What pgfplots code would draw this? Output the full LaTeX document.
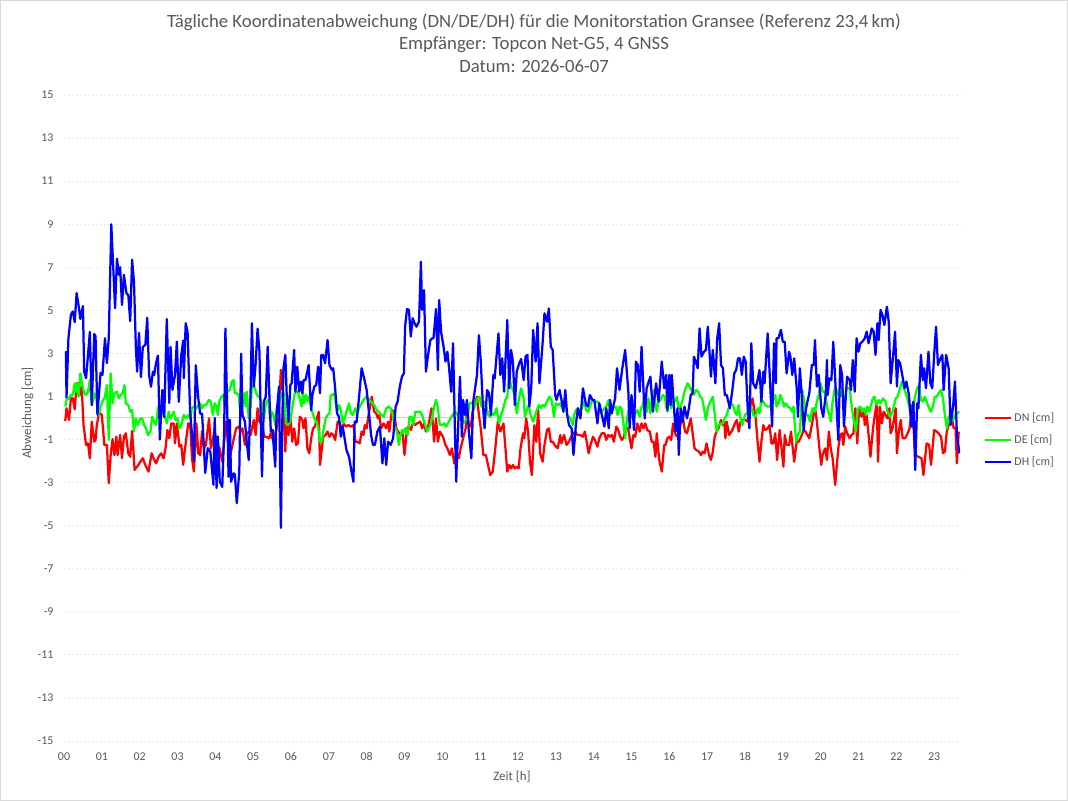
\documentclass[border=0pt]{standalone}
\usepackage{fontspec}
\setmainfont{Carlito}
\usepackage{pgfplots}
\usepackage{pgfplotstable}
\pgfplotsset{compat=1.18}

\definecolor{txtgray}{HTML}{595959}
\definecolor{gridgray}{HTML}{D9D9D9}
\definecolor{zerogray}{HTML}{D0D0D0}
\definecolor{dnred}{HTML}{FF0000}
\definecolor{degreen}{HTML}{00FF00}
\definecolor{dhblue}{HTML}{0000FF}

% time in minutes since 00:00, deviation in cm
\pgfplotstableread{
t v
2 -0.14
4 0.45
8 -0.09
11 0.94
14 0.91
17 0.40
20 1.61
23 1.61
25 1.07
28 1.46
31 -0.33
35 -1.25
38 -1.18
41 -1.87
44 -0.17
48 -1.10
50 -1.02
52 -0.33
55 0.14
57 0.22
60 0.14
64 -1.25
68 -1.25
71 -3.03
74 -1.72
77 -0.98
80 -1.72
83 -0.87
85 -1.72
89 -0.79
92 -1.87
95 -0.87
98 -0.71
102 -1.64
105 -1.80
108 -0.60
112 -2.41
118 -2.18
121 -2.03
125 -1.87
129 -2.18
134 -2.49
139 -1.64
142 -1.87
146 -2.11
150 -1.80
154 -1.64
158 -1.87
161 -1.41
164 -0.56
167 -0.94
170 -0.25
174 -0.25
176 -1.18
179 -0.25
183 -1.33
186 -1.25
189 -2.18
192 -1.41
197 -0.25
200 -0.25
203 -1.87
206 -2.49
210 -0.25
213 -1.64
216 -1.72
219 -0.60
222 -1.41
225 -1.25
230 -0.02
233 -1.41
236 -1.02
239 -0.48
242 -1.49
246 -1.33
251 -2.03
254 -1.10
257 -0.17
259 -0.79
263 -1.87
266 -1.41
270 -0.87
273 -0.48
277 -0.40
280 -0.63
283 -0.48
287 -1.25
290 -0.71
294 -0.63
296 -0.79
301 -0.09
304 -0.79
307 0.45
310 -0.17
313 -0.25
315 -0.48
318 -0.87
320 -0.87
325 -0.94
328 -0.71
332 -1.10
336 -0.63
340 -0.02
344 2.23
347 1.22
351 -1.56
353 -0.17
356 -0.79
359 0.14
362 -1.10
365 -0.48
368 -1.25
371 -1.18
374 0.06
378 -0.09
380 -0.48
383 -0.02
386 -1.41
389 -1.64
392 -0.94
395 -0.48
398 -0.40
401 -0.02
404 0.29
406 -2.18
409 -1.41
411 -0.87
415 -0.79
418 -0.63
421 -0.87
424 -0.71
427 -0.79
430 -1.02
434 -0.17
437 -0.17
440 -0.63
443 -0.25
447 -0.40
451 -0.33
455 -0.40
459 -0.33
462 -1.10
465 -1.10
469 -1.18
472 -0.63
475 -0.79
477 -0.33
480 -0.48
483 0.14
488 0.99
492 0.29
495 0.22
498 -0.02
500 0.14
503 -0.48
507 -0.25
511 -0.48
514 -0.17
516 -0.63
520 0.37
523 0.29
527 -0.48
530 -0.63
534 -0.79
537 -0.71
540 -1.72
544 -0.48
547 -0.40
550 -0.56
554 -0.17
557 -0.33
560 -0.25
565 -0.17
568 -0.48
571 -0.25
574 -0.63
578 -0.33
583 0.45
587 -1.10
590 -0.02
593 -1.10
596 -0.63
601 -0.87
605 -1.25
608 -1.41
612 -1.72
615 -1.41
619 -2.11
623 -1.64
626 -1.87
629 -1.41
633 -0.94
637 -0.48
639 0.29
642 -0.33
645 -0.40
648 0.29
655 0.99
658 0.14
661 -0.48
665 -1.72
669 -1.72
676 -2.65
680 -2.49
684 -1.41
688 -0.17
692 -0.63
697 -0.25
703 -2.49
706 -2.18
709 -2.34
712 -2.18
715 -2.34
718 -2.26
721 -2.34
724 -1.41
728 -0.71
730 -0.94
733 -0.02
736 -0.63
739 -2.03
742 -2.65
746 -0.33
749 -1.10
752 0.37
755 -1.64
759 -2.03
762 -1.25
766 -0.56
769 -0.48
772 -1.10
775 -1.10
778 -1.25
783 -1.41
787 -0.79
789 -1.18
793 -0.79
797 -1.25
801 -1.10
804 -0.87
808 -0.71
811 -0.63
814 -0.79
819 -0.79
823 -0.87
826 -0.63
829 -1.10
832 -1.64
835 -1.25
839 -0.87
842 -1.02
846 -1.33
849 -0.94
853 -0.71
857 -0.71
860 -1.02
863 -0.79
866 -0.87
869 -0.79
872 -1.10
876 -0.40
879 -0.56
882 -0.87
885 -1.02
888 -0.87
891 -0.40
895 -0.56
900 -1.41
903 -0.79
906 -0.87
909 -0.25
913 -0.63
916 -0.25
919 -0.48
922 -0.25
925 -0.56
929 -0.63
932 -1.10
935 -1.10
938 -1.80
940 -0.71
944 -1.95
948 -2.49
952 -1.25
954 -1.25
957 -0.94
960 -0.87
963 -1.02
966 -0.25
970 -0.79
973 -0.87
976 -0.48
979 -0.17
982 -0.09
985 -0.63
988 -0.71
994 -0.02
997 -0.71
1000 -1.41
1003 -1.49
1007 -1.56
1010 -1.72
1013 -1.56
1016 -1.64
1019 -1.18
1023 -1.72
1026 -1.95
1029 -1.56
1032 -0.87
1035 -0.63
1038 -0.48
1042 -0.09
1045 -0.33
1047 -0.17
1049 -0.94
1051 -0.17
1055 -0.79
1060 -0.56
1064 -0.25
1067 -0.09
1070 -0.63
1073 -0.17
1076 -0.09
1081 -0.09
1084 -0.17
1092 0.91
1097 -0.02
1100 -1.10
1103 -2.03
1106 -1.10
1109 -0.33
1112 -0.56
1116 -0.48
1119 -0.33
1122 -1.18
1125 -1.18
1128 -0.71
1131 -1.95
1135 -0.56
1138 -1.41
1141 -2.26
1143 -0.79
1146 -1.25
1150 -1.25
1153 -0.63
1158 -2.03
1162 -1.10
1165 -1.10
1169 -0.87
1173 -0.56
1176 -0.63
1179 -0.79
1182 -0.94
1187 -0.17
1190 0.45
1192 0.29
1194 -0.17
1198 -1.41
1201 -2.18
1203 -1.72
1207 -1.41
1210 -1.95
1213 -0.63
1216 -1.41
1219 -1.87
1223 -3.11
1228 -1.41
1231 -0.79
1234 -0.71
1236 -1.25
1239 -0.40
1242 -0.71
1246 -0.94
1249 -0.79
1252 -0.71
1255 0.45
1258 -1.18
1261 0.45
1265 0.06
1268 0.37
1270 -0.33
1273 0.14
1276 -0.79
1279 -1.80
1283 -0.48
1286 0.14
1289 0.76
1291 -2.03
1294 0.53
1297 -0.25
1300 0.29
1303 0.14
1306 -0.02
1309 0.45
1311 -0.71
1314 -0.48
1319 0.45
1321 -1.64
1324 -0.63
1327 -0.09
1330 -0.94
1334 -0.94
1338 -0.71
1341 -0.48
1345 0.60
1350 -1.72
1355 -1.80
1360 -1.87
1363 -2.65
1368 -1.18
1372 -1.25
1375 -2.18
1380 -0.56
1384 -0.63
1387 -0.71
1391 -0.87
1394 -1.64
1397 -1.56
1400 -0.63
1403 -0.33
1406 0.45
1411 -0.48
1414 -0.48
1416 -2.11
1419 -0.63
}\dndata

\pgfplotstableread{
t v
2 0.53
4 0.84
8 0.91
11 1.07
14 1.07
17 1.61
19 1.22
21 1.61
23 0.99
26 2.07
29 1.53
32 1.15
35 1.07
38 1.22
41 1.76
44 0.60
49 1.15
52 0.84
55 0.14
58 0.53
61 0.76
65 0.99
68 1.53
71 -1.02
74 2.07
77 0.68
80 1.15
84 1.22
87 0.91
90 1.07
93 1.15
96 1.53
98 0.68
102 0.60
105 0.29
108 0.37
111 -0.63
114 -0.02
117 -0.33
121 -0.02
124 -0.02
127 -0.33
130 -0.48
133 -0.79
137 -0.63
140 0.06
143 -0.17
146 -0.33
149 0.45
152 0.60
156 0.22
159 0.14
163 -0.25
166 0.29
169 -0.02
174 0.29
177 -0.09
180 -0.02
183 -0.48
186 -0.33
190 0.14
194 -0.02
197 0.14
200 -0.02
203 0.45
206 0.53
210 0.45
213 0.60
216 0.68
219 0.45
222 0.60
225 0.60
230 0.84
233 0.76
236 0.14
239 0.68
242 0.53
244 0.14
246 0.76
250 0.99
253 1.07
256 0.45
259 1.22
263 1.30
266 1.69
269 1.76
271 1.15
274 1.15
277 1.07
280 0.14
283 0.60
286 1.15
288 0.53
290 1.22
293 -0.02
296 0.53
299 2.00
301 1.53
305 1.15
308 0.99
311 0.99
314 0.45
317 -0.02
320 0.68
324 0.84
327 -0.09
329 0.29
332 0.14
335 -0.33
338 0.60
342 0.84
344 1.07
346 1.15
349 1.15
352 -0.25
355 -0.33
359 -0.17
363 0.68
367 1.30
370 1.22
373 0.99
377 0.53
379 1.22
381 0.68
384 1.07
387 0.76
389 0.99
392 0.45
397 -0.02
400 -0.17
403 -0.40
406 -1.10
409 -1.10
411 -0.63
415 -0.02
418 0.14
421 0.22
423 1.07
426 1.07
429 1.15
433 0.29
436 0.60
439 0.37
442 -0.25
445 -0.02
448 0.29
452 0.68
455 0.22
458 0.14
462 0.45
465 0.22
469 0.53
472 0.68
475 0.84
480 0.99
484 0.84
487 0.76
492 0.60
496 0.37
499 0.29
503 0.14
507 0.06
511 0.45
515 0.53
518 0.45
521 0.22
524 -0.40
528 -0.63
531 -1.25
533 -0.87
536 -0.56
538 -0.71
541 -0.48
545 -0.79
548 0.06
551 0.06
554 -0.33
557 0.29
562 0.29
565 0.29
568 0.14
570 -0.09
573 -0.33
576 -0.63
581 -0.33
584 0.06
587 0.53
590 0.84
593 0.45
596 -0.33
600 -0.33
603 -0.25
606 -0.40
609 -0.25
613 -0.02
618 0.22
621 0.29
624 0.14
627 0.22
630 -0.02
633 -0.25
637 -0.09
640 -0.02
643 0.68
646 0.68
649 0.76
652 0.53
656 0.91
659 0.99
662 0.53
665 0.53
668 0.76
673 0.14
676 0.06
679 0.22
682 0.14
686 0.45
690 -0.25
693 0.14
696 0.37
700 0.84
703 0.99
706 2.00
709 1.46
712 1.30
715 1.07
718 0.22
722 0.99
725 1.38
729 0.91
731 0.06
734 0.37
737 0.60
740 0.14
744 -0.17
749 0.29
753 0.60
756 0.45
759 0.60
762 0.53
766 0.76
770 0.99
773 0.84
775 0.53
777 0.06
780 0.68
784 0.60
787 0.68
790 0.45
792 0.53
795 0.60
798 0.14
803 -0.02
807 -0.33
809 0.14
812 0.37
815 0.45
819 0.29
822 0.53
825 0.76
828 0.37
831 0.29
834 0.53
838 0.84
841 0.76
844 0.76
847 0.76
850 0.45
853 0.29
857 0.45
860 0.53
864 0.84
867 0.14
870 0.45
875 0.53
878 0.14
881 0.53
884 0.45
887 -0.17
890 -0.94
893 -0.02
896 0.45
899 0.84
902 0.45
905 0.14
909 0.37
913 0.06
915 0.45
918 0.60
921 1.07
924 0.29
927 0.91
930 0.22
933 0.99
935 1.30
938 0.68
940 0.29
943 0.76
946 0.84
950 1.07
953 0.99
955 0.53
957 0.29
960 1.07
963 0.45
966 0.76
969 0.76
972 0.99
975 0.45
978 0.53
981 0.84
984 1.22
989 1.61
992 1.46
996 1.22
999 1.07
1002 1.30
1006 1.22
1009 0.99
1012 0.91
1015 0.45
1018 -0.09
1021 0.45
1025 0.76
1029 0.99
1035 -0.63
1038 -0.33
1042 -0.25
1045 -0.25
1048 -0.02
1051 0.14
1054 0.45
1057 0.68
1061 0.60
1064 0.29
1067 0.14
1070 0.60
1072 0.06
1076 -0.33
1080 0.14
1083 0.22
1086 0.53
1089 0.60
1093 0.14
1097 0.06
1100 0.45
1103 0.22
1106 0.84
1109 0.76
1112 0.60
1116 0.53
1120 0.53
1128 1.07
1130 0.53
1133 0.68
1136 1.07
1139 0.84
1142 0.53
1145 0.68
1148 0.53
1152 0.45
1155 0.29
1157 0.53
1159 -0.33
1161 -1.10
1164 -0.79
1167 -0.63
1171 1.30
1174 0.76
1177 0.14
1180 0.14
1183 -0.17
1187 0.45
1191 0.29
1194 0.76
1197 1.07
1200 1.61
1203 1.22
1207 1.22
1211 0.37
1214 0.14
1216 -0.17
1219 0.76
1223 1.46
1228 1.07
1231 0.99
1234 1.38
1237 0.60
1241 1.38
1246 1.38
1249 0.60
1252 -0.02
1256 -0.63
1259 0.45
1263 0.53
1266 0.29
1269 0.45
1272 0.14
1274 0.53
1277 0.29
1282 0.84
1285 0.99
1289 0.60
1292 0.84
1295 0.68
1299 0.91
1303 0.76
1306 0.29
1310 0.06
1314 0.29
1319 0.91
1322 0.99
1325 1.30
1329 1.69
1333 1.30
1337 0.99
1340 0.60
1343 0.14
1346 -0.33
1349 0.91
1353 1.38
1356 1.53
1359 0.84
1362 0.76
1365 0.99
1368 0.76
1372 0.45
1375 0.29
1378 0.53
1381 0.99
1384 0.99
1387 1.15
1391 1.30
1394 0.91
1397 0.14
1400 -0.48
1403 0.06
1406 -0.17
1410 -0.09
1413 0.14
1416 0.22
1420 0.29
}\dedata

\pgfplotstableread{
t v
3 3.10
4 0.95
7 3.70
11 4.80
14 4.95
17 4.45
20 5.80
23 5.25
26 4.60
30 5.20
32 2.15
35 1.85
38 2.90
41 4.00
44 0.60
48 3.90
50 3.80
53 0.15
58 2.10
61 2.00
65 3.70
68 2.55
71 3.70
75 9.00
81 5.10
84 7.40
87 6.65
89 7.00
92 5.25
95 6.65
99 5.80
102 5.70
105 4.50
108 7.35
111 6.30
114 3.25
116 2.15
119 3.95
122 1.90
125 3.30
129 3.40
132 4.65
135 2.00
138 1.45
141 2.15
143 2.00
146 2.55
149 2.90
152 -1.00
156 1.30
159 0.05
163 4.60
167 0.70
169 3.30
172 1.30
176 2.00
179 3.55
182 0.75
186 2.90
189 3.60
190 1.85
193 4.40
196 4.00
200 0.30
203 -0.80
206 -2.00
209 2.45
213 0.90
216 0.20
219 0.20
224 -2.55
228 -1.40
232 -1.55
237 -3.10
239 0.00
242 -3.25
244 -0.85
247 -2.95
251 -3.20
254 -0.63
256 4.15
259 0.14
261 -2.73
263 -0.09
265 -2.96
269 -2.57
271 -2.62
274 -3.96
278 -2.49
281 2.99
283 0.14
287 -0.17
290 -1.18
293 -1.95
296 1.38
298 4.40
301 1.46
304 2.54
307 4.15
310 3.08
312 -0.02
314 -2.72
317 0.76
320 0.99
323 3.31
326 0.84
328 -0.63
331 -0.56
332 -1.10
335 -2.26
337 0.14
341 1.46
344 -5.10
346 -0.48
348 2.31
351 2.93
353 1.22
356 -0.17
359 1.53
361 1.61
365 3.16
367 1.22
370 2.38
373 1.22
376 1.69
378 1.15
380 1.76
383 1.76
388 2.46
392 0.37
394 1.07
397 1.46
400 1.53
403 2.38
406 1.15
408 2.93
411 2.93
414 2.54
418 3.62
421 2.46
425 2.23
427 2.31
430 1.38
433 0.22
436 0.06
439 -0.87
442 -0.40
448 -1.49
452 -1.80
456 -2.49
459 -2.96
461 -0.17
464 -0.20
468 0.99
472 2.31
476 1.84
480 1.30
484 0.14
487 -0.79
490 -1.25
493 -1.25
497 -0.63
501 -0.40
505 -2.11
508 -0.94
511 -2.18
514 -1.10
518 -1.25
522 -0.94
526 0.53
529 0.76
533 1.53
536 1.92
539 2.07
541 4.24
544 5.06
547 5.02
550 3.78
553 4.63
556 4.40
559 4.24
563 4.47
566 7.26
568 5.02
571 5.94
574 2.15
577 2.85
581 3.62
584 3.70
586 3.70
590 5.06
593 2.23
595 5.48
598 4.01
602 3.31
605 2.62
608 3.08
611 2.23
614 1.22
617 3.47
620 -0.63
622 -2.96
625 -0.48
628 1.92
631 -0.87
633 0.84
636 0.14
639 0.84
642 -0.63
646 -1.87
649 0.76
655 2.00
658 3.85
661 2.62
664 0.76
667 -0.48
671 1.30
674 1.15
677 0.14
681 2.00
683 1.84
689 3.93
692 2.00
695 2.77
698 1.22
703 4.55
706 1.38
709 3.16
712 2.62
715 0.60
718 2.15
722 2.54
725 2.74
729 1.76
732 2.85
735 2.93
738 0.53
741 1.38
744 4.09
748 2.62
751 4.40
754 1.61
758 3.08
759 3.47
762 4.86
766 4.47
769 5.09
772 3.31
775 3.16
779 1.07
781 0.84
786 1.30
789 0.84
792 0.29
795 1.30
798 0.14
801 -0.33
805 -0.48
808 -1.72
812 -0.25
815 0.45
819 -0.02
823 1.38
828 0.60
831 0.53
834 1.07
838 0.84
841 0.84
846 -0.25
849 0.68
853 0.14
857 -0.40
860 0.45
864 -0.48
866 0.84
869 0.22
871 0.53
874 0.91
877 2.31
881 1.30
885 2.23
890 3.16
895 1.22
897 -0.48
900 1.07
904 -0.56
907 2.62
910 2.46
913 1.22
916 3.31
921 -0.02
924 1.38
930 1.92
934 0.29
939 1.61
943 0.76
948 2.62
952 1.38
955 2.00
957 0.37
960 2.00
962 0.60
964 2.00
966 1.07
970 -0.63
973 0.45
975 -1.72
978 0.45
981 -0.17
984 0.53
988 -0.02
991 0.45
994 1.07
997 1.15
999 2.85
1002 2.62
1005 2.31
1008 4.16
1011 2.85
1015 3.08
1018 3.16
1021 4.24
1024 2.93
1026 1.92
1029 3.16
1033 1.61
1036 3.70
1039 4.40
1042 2.46
1045 2.31
1048 1.07
1051 1.07
1056 0.45
1060 1.30
1063 2.07
1066 2.23
1069 2.77
1072 2.77
1075 2.00
1078 2.85
1081 2.62
1084 0.60
1087 -0.48
1090 3.47
1093 1.61
1097 1.38
1100 1.76
1103 2.23
1106 0.76
1109 2.15
1111 1.61
1116 3.93
1120 1.53
1123 -0.40
1126 3.47
1129 1.61
1130 3.70
1133 3.70
1137 4.09
1140 3.54
1143 3.54
1146 2.07
1150 3.08
1152 2.85
1155 2.00
1158 2.77
1162 1.38
1164 0.06
1167 2.31
1170 1.07
1173 -0.56
1176 0.29
1179 0.76
1182 1.15
1186 2.46
1189 2.46
1191 3.62
1194 1.46
1197 2.00
1201 0.45
1204 0.06
1208 1.07
1210 2.69
1211 1.07
1214 1.84
1217 1.76
1220 3.54
1228 -1.02
1231 2.46
1234 2.00
1237 -0.40
1240 1.07
1242 1.92
1246 1.76
1248 1.30
1251 2.69
1254 1.22
1257 3.70
1260 3.08
1263 3.47
1266 3.54
1270 3.70
1273 4.01
1276 3.47
1281 4.16
1284 4.01
1287 2.93
1290 4.40
1292 3.62
1295 5.02
1298 4.78
1301 4.32
1305 5.17
1308 4.47
1311 1.61
1315 2.93
1318 4.01
1321 1.46
1323 2.69
1326 2.54
1329 2.07
1333 1.38
1336 1.69
1340 1.07
1344 -0.40
1347 0.76
1350 -2.41
1353 0.68
1355 0.45
1359 2.93
1362 1.76
1364 2.31
1367 1.38
1371 3.08
1374 1.61
1377 1.38
1380 2.93
1383 4.24
1386 2.46
1390 2.77
1393 2.93
1395 1.30
1399 2.93
1403 2.31
1406 -0.33
1410 0.53
1413 1.69
1416 -0.71
1420 -1.64
}\dhdata

\begin{document}
\begin{tikzpicture}
\useasboundingbox (0,0) rectangle (1068bp,801bp);
\fill[white] (0,0) rectangle (1068bp,801bp);
\draw[gridgray, line width=1bp] (0.5bp,0.5bp) rectangle (1067.5bp,800.5bp);

\begin{scope}[every node/.style={text=txtgray, font=\fontsize{18.8}{22}\selectfont, anchor=base, inner sep=0pt}]
\node at (534bp,773bp) {Tägliche Koordinatenabweichung (DN/DE/DH) für die Monitorstation Gransee (Referenz 23,4\,km)};
\node at (534bp,751bp) {Empfänger: Topcon Net-G5, 4 GNSS};
\node at (534bp,728bp) {Datum: 2026-06-07};
\end{scope}

\begin{axis}[
  at={(64bp,60bp)}, anchor=south west,
  scale only axis, width=896bp, height=646bp,
  xmin=0, xmax=1421, ymin=-15, ymax=15,
  xtick={0,60,120,180,240,300,360,420,480,540,600,660,720,780,840,900,960,1020,1080,1140,1200,1260,1320,1380},
  xticklabels={00,01,02,03,04,05,06,07,08,09,10,11,12,13,14,15,16,17,18,19,20,21,22,23},
  ytick={-15,-13,...,15},
  ymajorgrids,
  major grid style={gridgray, line width=0.8bp, dash pattern=on 1.2bp off 2.8bp},
  extra y ticks={0}, extra y tick labels={},
  extra y tick style={grid=major, major grid style={zerogray, solid, line width=1bp}},
  axis line style={draw=none},
  major tick length=0pt,
  tick label style={font=\fontsize{12}{14}\selectfont, text=txtgray},
  /pgf/number format/assume math mode=true,
  yticklabel style={anchor=east, xshift=-7bp},
  xticklabel style={anchor=base, yshift=-19bp},
  xlabel={Zeit [h]},
  ylabel={Abweichung [cm]},
  label style={font=\fontsize{13}{15}\selectfont, text=txtgray},
  xlabel style={at={(axis description cs:0.5,0)}, anchor=base, yshift=-39bp},
  ylabel style={at={(axis description cs:-0.0368,0.508)}, anchor=base},
  legend style={draw=none, fill=none, inner sep=0pt,
    at={(axis description cs:1.0268,0.466)}, anchor=west,
    font=\fontsize{12}{14}\selectfont, text=txtgray,
    row sep=8bp, nodes={inner sep=2bp}},
  legend cell align=left,
  legend image code/.code={\draw[#1, line width=2.25bp] (0bp,0bp) -- (26bp,0bp);},
  every axis plot/.append style={line width=2.25bp, line join=round, mark=none},
]
\addplot[dnred] table[x=t, y=v] {\dndata};
\addlegendentry{DN [cm]}
\addplot[degreen] table[x=t, y=v] {\dedata};
\addlegendentry{DE [cm]}
\addplot[dhblue] table[x=t, y=v] {\dhdata};
\addlegendentry{DH [cm]}
\end{axis}
\end{tikzpicture}
\end{document}
